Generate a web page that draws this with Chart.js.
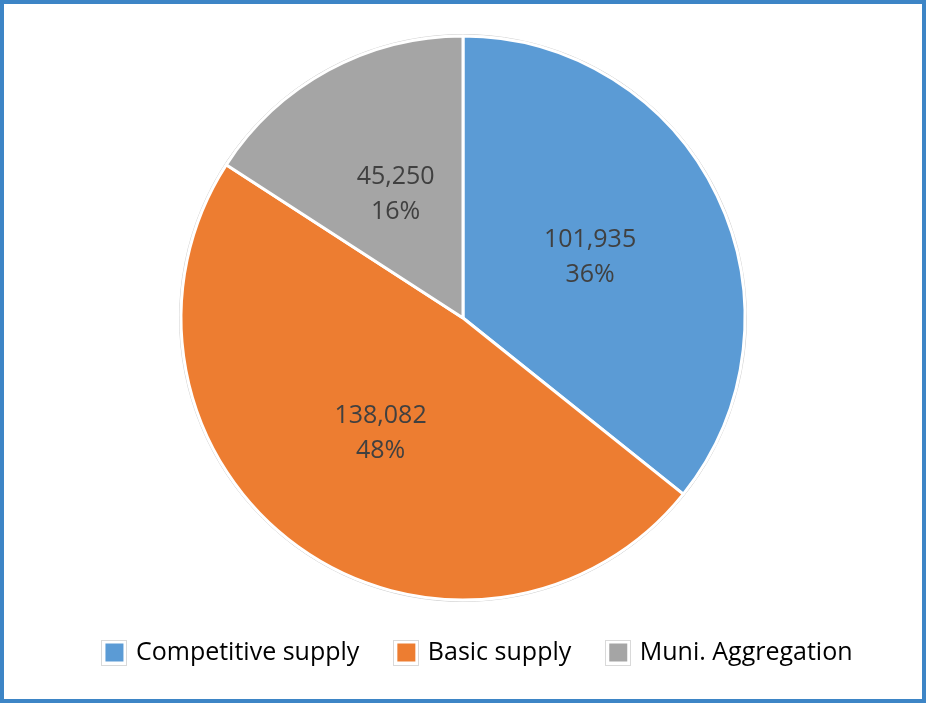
<!DOCTYPE html>
<html>
<head>
<meta charset="utf-8">
<script src="https://cdn.jsdelivr.net/npm/chart.js@4/dist/chart.umd.min.js"></script>
<style>
	html, body { margin: 0; padding: 0; background: #fff; }
	#frame {
		width: 926px; height: 703px; box-sizing: border-box;
		border: 4px solid #3d85c6; background: #fff;
	}
	#frame canvas { display: block; }
</style>
</head>
<body>
<div id="frame"><canvas id="supplyPie" width="918" height="695"></canvas></div>
<script>
	var categories = ["Competitive supply", "Basic supply", "Muni. Aggregation"];
	var accounts = [101935, 138082, 45250];
	var colors = ["#5b9bd5", "#ed7d31", "#a5a5a5"];

	var fontName = "'Open Sans', 'Liberation Sans', sans-serif";

	// value + percent printed in the middle of every slice
	var sliceLabels = {
		id: 'sliceLabels',
		afterDatasetsDraw: function(chart){
			var ctx = chart.ctx;
			var data = chart.data.datasets[0].data;
			var total = data.reduce(function(a, b){ return a + b; }, 0);
			var meta = chart.getDatasetMeta(0);
			ctx.save();
			ctx.font = "25px " + fontName;
			ctx.fillStyle = "#404040";
			ctx.textAlign = "center";
			ctx.textBaseline = "middle";
			meta.data.forEach(function(arc, i){
				var pos = arc.tooltipPosition();
				var pct = Math.round(data[i] / total * 100) + "%";
				ctx.fillText(data[i].toLocaleString("en-US"), pos.x, pos.y - 17);
				ctx.fillText(pct, pos.x, pos.y + 18);
			});
			ctx.restore();
		}
	};

	// faint ring round the pie and grey frames round the legend swatches
	var extras = {
		id: 'extras',
		afterLayout: function(chart){
			// legend row sits a little right of centre
			chart.legend.left += 16;
			chart.legend.right += 16;
		},
		beforeDatasetsDraw: function(chart){
			var arc = chart.getDatasetMeta(0).data[0];
			var ctx = chart.ctx;
			ctx.save();
			ctx.strokeStyle = "#d0d0d0";
			ctx.lineWidth = 1;
			ctx.beginPath();
			ctx.arc(arc.x, arc.y, arc.outerRadius + 1.5, 0, Math.PI * 2);
			ctx.stroke();
			ctx.restore();
		},
		afterDraw: function(chart){
			var ctx = chart.ctx;
			var boxes = chart.legend.legendHitBoxes;
			ctx.save();
			ctx.strokeStyle = "#d9d9d9";
			ctx.lineWidth = 1;
			boxes.forEach(function(b){
				var size = 18;
				var top = b.top + (b.height - size) / 2;
				ctx.strokeRect(Math.round(b.left) - 3.5, Math.round(top) - 3.5, size + 7, size + 7);
			});
			ctx.restore();
		}
	};

	var conf_pie = {
		type: 'pie',
		data: {
			labels: categories,
			datasets: [{
				data: accounts,
				backgroundColor: colors,
				borderColor: "#ffffff",
				borderWidth: 3
			}]
		},
		options: {
			responsive: false,
			animation: false,
			radius: 282,
			layout: { padding: { top: 30, bottom: 24, left: 0, right: 0 } },
			plugins: {
				tooltip: { enabled: false },
				legend: {
					position: "bottom",
					labels: {
						boxWidth: 18,
						boxHeight: 18,
						padding: 38,
						color: "#595959",
						font: { family: fontName, size: 25 },
						generateLabels: function(chart){
							return chart.data.labels.map(function(l, i){
								return {
									text: l,
									fillStyle: colors[i],
									strokeStyle: colors[i],
									lineWidth: 0,
									index: i
								};
							});
						}
					}
				}
			}
		},
		plugins: [sliceLabels, extras]
	};

	var ctx = document.getElementById("supplyPie").getContext("2d");
	var supply_pie = new Chart(ctx, conf_pie);
</script>
</body>
</html>
